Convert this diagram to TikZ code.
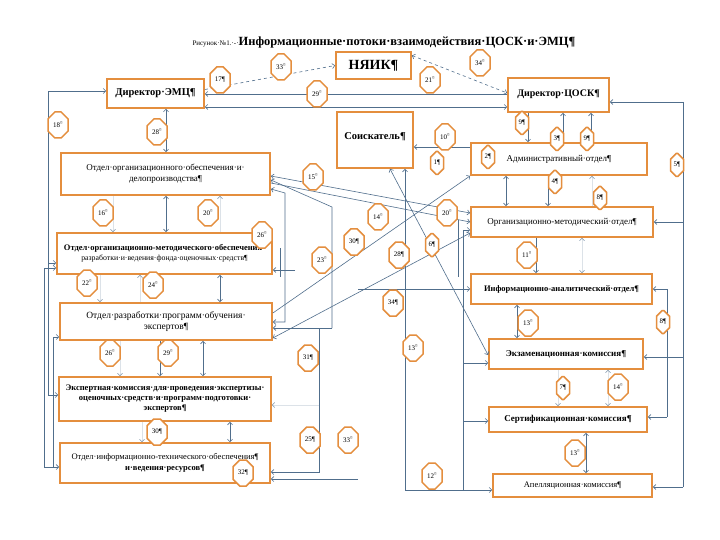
\documentclass[tikz,border=0pt]{standalone}
\usepackage{fontspec}
\setmainfont{Liberation Serif}
\usetikzlibrary{shapes.misc,arrows.meta}
\definecolor{boxor}{RGB}{228,142,62}
\definecolor{lnc}{RGB}{80,110,140}
\newcommand\cmk{\textsuperscript{¤}}
\tikzset{
  box/.style={draw=boxor, line width=1.8pt, fill=white, inner sep=1pt, align=center, anchor=center},
  lab/.style={chamfered rectangle, chamfered rectangle sep=4pt, draw=boxor, line width=1.5pt, fill=white,
    minimum width=20pt, minimum height=26pt, inner sep=0pt, font=\fontsize{7}{8}\selectfont},
  nlab/.style={lab, chamfered rectangle sep=3pt, minimum width=13pt, minimum height=23pt},
  ln/.style={draw=lnc, line width=0.6pt},
  ar/.style={ln, -{Straight Barb[length=2.5pt,width=5pt]}},
  dar/.style={ln, {Straight Barb[length=2.5pt,width=5pt]}-{Straight Barb[length=2.5pt,width=5pt]}},
  far/.style={draw=lnc!20, line width=0.5pt, -{Straight Barb[length=2.5pt,width=5pt,color=lnc!75]}},
  fdar/.style={draw=lnc!20, line width=0.5pt, {Straight Barb[length=2.5pt,width=5pt,color=lnc!75]}-{Straight Barb[length=2.5pt,width=5pt,color=lnc!75]}},
}
\begin{document}
\begin{tikzpicture}[x=1pt,y=-1pt]
\path[fill=white] (0,0) rectangle (720,540);
\useasboundingbox (0,0) rectangle (720,540);
\foreach \v in {44,48,53,100,113,120,140,142,160,166,203,220,230,280,285,295,319,332,358,390,405,458,463,506,517,528,536,548,558,563,582,586,591,592,608,667,683}
  {\coordinate (X\v) at (\v,0);}
\foreach \v in {91,94,102,107,147,176,180,183,189,193,207,213,220,222,230,233,248,263,268,270,277,289,313,322,328,337,338,355,357,363,395,405,417,421,467,472,479,487,490}
  {\coordinate (Y\v) at (0,\v);}

% title
\node[anchor=center] (title) at (384,42) {{\fontsize{7}{8}\selectfont Рисунок·№1.·-·}{\fontsize{12.5}{14}\selectfont\bfseries Информационные·потоки·взаимодействия·ЦОСК·и·ЭМЦ¶}};

% boxes
\node[box, minimum width=97pt, minimum height=29pt, font=\fontsize{10.5}{12}\selectfont\bfseries] (emc) at (155.5,93.5) {Директор·ЭМЦ¶};
\node[box, minimum width=75pt, minimum height=27pt, font=\fontsize{14}{16}\selectfont\bfseries] (nyik) at (373.5,65.5) {НЯИК¶};
\node[box, minimum width=101pt, minimum height=34pt, font=\fontsize{10}{12}\selectfont\bfseries] (cosk) at (558.5,95) {\raisebox{3pt}{Директор·ЦОСК¶}};
\node[box, minimum width=76pt, minimum height=56pt, font=\fontsize{10.5}{12}\selectfont\bfseries] (soisk) at (375,140) {\raisebox{7pt}{Соискатель¶}};
\node[box, minimum width=176pt, minimum height=32pt, font=\fontsize{9}{10}\selectfont] (adm) at (559,159) {Административный·отдел¶};
\node[box, minimum width=209pt, minimum height=42pt, font=\fontsize{9}{11}\selectfont] (oob) at (165.5,174) {Отдел·организационного·обеспечения·и·\\делопроизводства¶};
\node[box, minimum width=215pt, minimum height=41pt, font=\fontsize{8.5}{10.5}\selectfont] (omo) at (164.5,253.5) {{\bfseries Отдел·организационно-методического·обеспечения·}\\{\fontsize{7.8}{9}\selectfont разработки·и·ведения·фонда·оценочных·средств¶}};
\node[box, minimum width=182pt, minimum height=30pt, font=\fontsize{9}{10}\selectfont] (omd) at (562,222) {Организационно-методический·отдел¶};
\node[box, minimum width=181pt, minimum height=30pt, font=\fontsize{8.5}{10}\selectfont\bfseries] (iao) at (561.5,289) {Информационно-аналитический·отдел¶};
\node[box, minimum width=212pt, minimum height=37pt, font=\fontsize{9.5}{11.5}\selectfont] (orp) at (166,321.5) {Отдел·разработки·программ·обучения·\\экспертов¶};
\node[box, minimum width=154pt, minimum height=30pt, font=\fontsize{9}{10}\selectfont\bfseries] (exam) at (566,354) {Экзаменационная·комиссия¶};
\node[box, minimum width=212pt, minimum height=44pt, font=\fontsize{8.5}{10}\selectfont\bfseries] (ekk) at (165,399) {Экспертная·комиссия·для·проведения·экспертизы·\\оценочных·средств·и·программ·подготовки·\\экспертов¶};
\node[box, minimum width=158pt, minimum height=25pt, font=\fontsize{9}{10}\selectfont\bfseries] (sert) at (568,419.5) {Сертификационная·комиссия¶};
\node[box, minimum width=210pt, minimum height=40pt, font=\fontsize{8.5}{11}\selectfont] (oit) at (165,463) {Отдел·информационно-технического·обеспечения¶\\{\bfseries и·ведения·ресурсов¶}};
\node[box, minimum width=159pt, minimum height=23pt, font=\fontsize{8.5}{10}\selectfont] (apel) at (572.5,485.5) {Апелляционная·комиссия¶};

% top connectors
\draw[ar,dashed] ([yshift=4pt]emc.east) -- (nyik.west);
\draw[ar] (Y94 -| cosk.west) -- (Y94 -| emc.east);
\draw[dar] (Y107 -| emc.east) -- (Y107 -| cosk.west);
\draw[dar,dashed] ([yshift=10pt]nyik.east) -- ([yshift=2pt]cosk.west);
% right side
\draw[ln] (X683 |- Y102) -- (X683 |- Y487);
\draw[ar] (X683 |- Y102) -- (Y102 -| cosk.east);
\draw[ar] (X683 |- Y222) -- (Y222 -| omd.east);
\draw[ar] (X683 |- Y357) -- (Y357 -| exam.east);
\draw[ar] (X683 |- Y487) -- (Y487 -| apel.east);
\draw[ln] (X667 |- Y289) -- (X667 |- Y417);
\draw[ar] (X667 |- Y289) -- (Y289 -| iao.east);
\draw[ar] (X667 |- Y417) -- (Y417 -| sert.east);
% right column
\draw[ar] (X528 |- cosk.south) -- (X528 |- adm.north);
\draw[ar] (X563 |- adm.north) -- (X563 |- cosk.south);
\draw[ar] (X591 |- adm.north) -- (X591 |- cosk.south);
\draw[ar] (Y147 -| adm.west) -- (Y147 -| soisk.east);
\draw[dar] (X506 |- adm.south) -- (X506 |- omd.north);
\draw[ar] (X548 |- adm.south) -- (X548 |- omd.north);
\draw[far] (X592 |- omd.north) -- (X592 |- adm.south);
\draw[ar] (X536 |- omd.south) -- (X536 |- iao.north);
\draw[fdar] (X582 |- omd.south) -- (X582 |- iao.north);
\draw[dar] (X517 |- iao.south) -- (X517 |- exam.north);
\draw[far] (X558 |- exam.south) -- (X558 |- sert.north);
\draw[fdar] (X608 |- exam.south) -- (X608 |- sert.north);
\draw[dar] (X586 |- sert.south) -- (X586 |- apel.north);
% middle verticals
\draw[ln] (X463 |- Y230) -- (X463 |- Y490);
\draw[ar] (X463 |- Y230) -- (Y230 -| omd.west);
\draw[ar] (X463 |- Y363) -- (Y363 -| exam.west);
\draw[ar] (X463 |- Y421) -- (Y421 -| sert.west);
\draw[ln] (X458 |- Y220) -- (X458 |- Y277);
\draw[ar] (X405 |- Y490) -- (X405 |- soisk.south);
\draw[ar] (X405 |- Y490) -- (Y490 -| apel.west);
\draw[dar] (X390 |- soisk.south) -- (Y355 -| exam.west);
\draw[ar] (X358 |- Y289) -- (Y289 -| iao.west);
\draw[ar] (X358 |- Y479) -- (Y479 -| oit.east);
% diagonals
\draw[dar] (Y176 -| oob.east) -- (Y213 -| omd.west);
\draw[ar] (Y183 -| oob.east) -- (Y222 -| omd.west);
\draw[ar] (Y313 -| orp.east) -- (adm.south west);
\draw[dar] (Y338 -| orp.east) -- (Y233 -| omd.west);
\draw[dar] (Y189 -| oob.east) -- (X285 |- Y193) -- (X285 |- Y322) -- (Y322 -| orp.east);
\draw[ar] (X332 |- Y328) -- (X332 |- Y207) -- (Y180 -| oob.east);
\draw[ar] (X332 |- Y328) -- (Y328 -| orp.east);
\draw[ar] (X319 |- Y328) -- (X319 |- Y472) -- (Y472 -| oit.east);
\draw[ar] (X295 |- Y270) -- (Y270 -| omo.east);
\draw[ln] (X280 |- Y248) -- (X280 |- Y277);
\draw[far] (X319 |- Y405) -- (Y405 -| ekk.east);
% left side
\draw[ar] (X48 |- Y395) -- (X48 |- Y91) -- (Y91 -| emc.west);
\draw[ar] (X48 |- Y395) -- (Y395 -| ekk.west);
\draw[ar] (X48 |- Y263) -- (Y263 -| omo.west);
\draw[ar] (X44 |- Y268) -- (Y268 -| omo.west);
\draw[ln] (X44 |- Y268) -- (X44 |- Y467);
\draw[ar] (X53 |- Y467) -- (X53 |- Y337) -- (Y337 -| orp.west);
\draw[ar] (X44 |- Y467) -- (Y467 -| oit.west);
% left column
\draw[dar] (X166 |- emc.south) -- (X166 |- oob.north);
\draw[far] (X113 |- oob.south) -- (X113 |- omo.north);
\draw[dar] (X166 |- oob.south) -- (X166 |- omo.north);
\draw[far] (X220 |- omo.north) -- (X220 |- oob.south);
\draw[far] (X100 |- omo.south) -- (X100 |- orp.north);
\draw[far] (X140 |- orp.north) -- (X140 |- omo.south);
\draw[dar] (X220 |- omo.south) -- (X220 |- orp.north);
\draw[far] (X120 |- orp.south) -- (X120 |- ekk.north);
\draw[ar] (X160 |- orp.south) -- (X160 |- ekk.north);
\draw[dar] (X203 |- orp.south) -- (X203 |- ekk.north);
\draw[far] (X142 |- ekk.south) -- (X142 |- oit.north);
\draw[dar] (X230 |- ekk.south) -- (X230 |- oit.north);

% labels
\node[lab] (l17) at (220,80) {17¶};
\node[lab] (l33a) at (281,67) {33\cmk};
\node[lab] (l29a) at (317,94) {29\cmk};
\node[lab] (l18) at (58,125) {18\cmk};
\node[lab] (l28a) at (157,132) {28\cmk};
\node[lab] (l21) at (430,80) {21\cmk};
\node[lab] (l34a) at (480,63) {34\cmk};
\node[lab] (l10) at (445,137) {10\cmk};
\node[lab] (l15) at (313,177) {15\cmk};
\node[lab] (l16) at (103,213) {16\cmk};
\node[lab] (l20a) at (208,213) {20\cmk};
\node[lab] (l26a) at (262,235) {26\cmk};
\node[lab] (l30a) at (354,242) {30¶};
\node[lab] (l23) at (322,260) {23\cmk};
\node[lab] (l14a) at (378,217) {14\cmk};
\node[lab] (l20b) at (447,213) {20\cmk};
\node[lab] (l28b) at (399,255) {28¶};
\node[lab] (l11) at (527,255) {11\cmk};
\node[lab] (l22) at (87,283) {22\cmk};
\node[lab] (l24) at (153,285) {24\cmk};
\node[lab] (l26b) at (110,353) {26\cmk};
\node[lab] (l29b) at (168,353) {29\cmk};
\node[lab] (l31) at (308,358) {31¶};
\node[lab] (l34b) at (393,303) {34¶};
\node[lab] (l13a) at (413,348) {13\cmk};
\node[lab] (l13b) at (528,323) {13\cmk};
\node[lab] (l14b) at (618,387) {14\cmk};
\node[lab] (l30b) at (157,432) {30¶};
\node[lab] (l25) at (310,440) {25¶};
\node[lab] (l33b) at (348,440) {33\cmk};
\node[lab] (l32) at (243,473) {32¶};
\node[lab] (l12) at (432,476) {12\cmk};
\node[lab] (l13c) at (575,453) {13\cmk};
\node[nlab] (l9a) at (522,123) {9¶};
\node[nlab] (l3) at (557,139) {3¶};
\node[nlab] (l9b) at (587,139) {9¶};
\node[nlab] (l1) at (437,163) {1¶};
\node[nlab] (l2) at (488,157) {2¶};
\node[nlab] (l5) at (677,165) {5¶};
\node[nlab] (l4) at (555,182) {4¶};
\node[nlab] (l8a) at (600,198) {8¶};
\node[nlab] (l6) at (432,245) {6¶};
\node[nlab] (l8b) at (663,322) {8¶};
\node[nlab] (l7) at (563,388) {7¶};
\end{tikzpicture}
\end{document}
